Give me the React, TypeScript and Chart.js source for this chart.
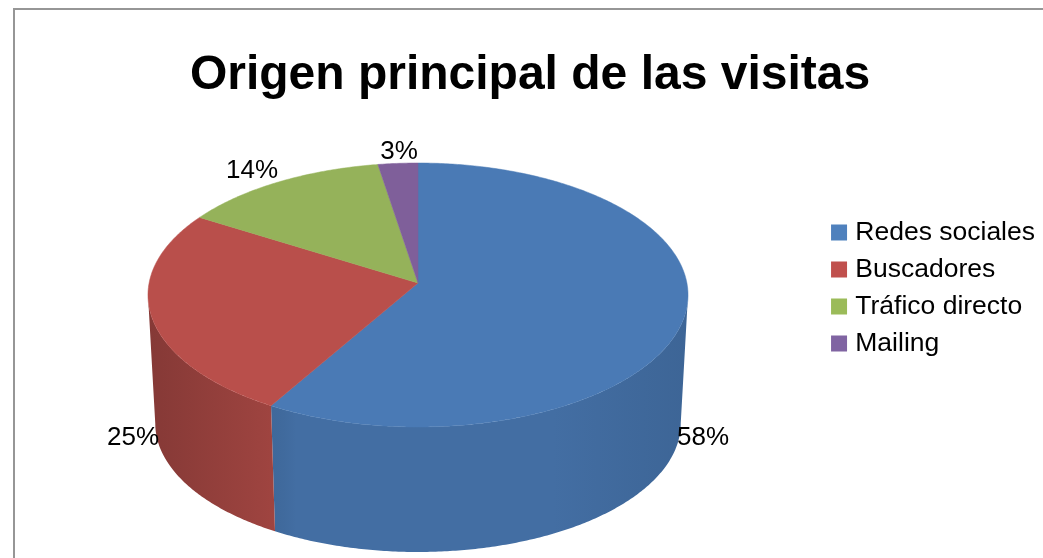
import React, { useEffect, useRef } from "react";
import { Chart, registerables } from "chart.js";

Chart.register(...registerables);

const titleText = "Origen principal de las visitas";
const categories = ["Redes sociales", "Buscadores", "Tráfico directo", "Mailing"];
const shares = [58.4, 25.4, 13.6, 2.6];
const topColors = ["#4a7ab5", "#b94f4b", "#95b25a", "#7f5f9a"];
const legendColors = ["#4f81bd", "#c0504d", "#9bbb59", "#8064a2"];

const FONT = '"Liberation Sans", Arial, sans-serif';
const apexX = 418;
const apexY = 283;
const projA = 268.9;
const projB = 130.9;
const projK = -0.0909;
const depth = 128.9;
const shrink = 0.973;
const labelSpots = [
  { x: 703, y: 438 },
  { x: 133, y: 438 },
  { x: 252, y: 171 },
  { x: 399, y: 152 },
];
const shadeStops = [
  { nx: -1, f: 0.72 },
  { nx: -0.5, f: 0.87 },
  { nx: -0.45, f: 0.9 },
  { nx: 0.5, f: 0.9 },
  { nx: 1, f: 0.83 },
];

const project = (a: number) => {
  const u = Math.cos(a);
  const v = Math.sin(a);
  const d = 1 + projK * v;
  return { x: (projA * u) / d, y: (projB * v) / d };
};
const topPt = (a: number) => {
  const p = project(a);
  return { x: apexX + p.x, y: apexY + p.y };
};
const bottomPt = (a: number) => {
  const p = project(a);
  return { x: apexX + p.x * shrink, y: apexY + depth + p.y * shrink };
};
const shadeColor = (hex: string, f: number) => {
  const n = parseInt(hex.slice(1), 16);
  const c = [(n >> 16) & 255, (n >> 8) & 255, n & 255].map((v) => Math.round(v * f));
  return `rgb(${c[0]},${c[1]},${c[2]})`;
};

const pie3d = {
  id: "pie3d",
  beforeDatasetDraw(chart: any) {
    const ctx = chart.ctx;
    const arcs = chart.getDatasetMeta(0).data;
    // the wall's silhouette sits where the projected rim is widest
    const minA = Math.asin(-projK);
    const maxA = Math.PI - minA;
    ctx.save();
    // side wall: one shaded band per slice
    arcs.forEach((arc: any, i: number) => {
      const s = Math.max(arc.startAngle, minA);
      const e = Math.min(arc.endAngle, maxA);
      if (e <= s) return;
      const grad = ctx.createLinearGradient(apexX - 270, 0, apexX + 270, 0);
      shadeStops.forEach((st) => grad.addColorStop((st.nx + 1) / 2, shadeColor(topColors[i], st.f)));
      const n = Math.ceil((e - s) / 0.01);
      ctx.beginPath();
      for (let k = 0; k <= n; k++) {
        const p = topPt(s + ((e - s) * k) / n);
        if (k === 0) ctx.moveTo(p.x, p.y);
        else ctx.lineTo(p.x, p.y);
      }
      for (let k = n; k >= 0; k--) {
        const p = bottomPt(s + ((e - s) * k) / n);
        ctx.lineTo(p.x, p.y);
      }
      ctx.closePath();
      ctx.fillStyle = grad;
      ctx.fill();
    });
    // top face
    arcs.forEach((arc: any, i: number) => {
      ctx.beginPath();
      ctx.moveTo(apexX, apexY);
      const n = Math.ceil((arc.endAngle - arc.startAngle) / 0.01);
      for (let k = 0; k <= n; k++) {
        const p = topPt(arc.startAngle + ((arc.endAngle - arc.startAngle) * k) / n);
        ctx.lineTo(p.x, p.y);
      }
      ctx.closePath();
      ctx.fillStyle = topColors[i];
      ctx.strokeStyle = topColors[i];
      ctx.lineWidth = 0.5;
      ctx.fill();
      ctx.stroke();
    });
    // data labels
    ctx.fillStyle = "#000";
    ctx.font = `26px ${FONT}`;
    ctx.textAlign = "center";
    ctx.textBaseline = "middle";
    shares.forEach((v, i) => ctx.fillText(`${Math.round(v)}%`, labelSpots[i].x, labelSpots[i].y));
    ctx.restore();
    return false;
  },
};

export default function App() {
  const ref = useRef<HTMLCanvasElement>(null);
  useEffect(() => {
    const chart = new Chart(ref.current as HTMLCanvasElement, {
      type: "pie",
      data: {
        labels: categories,
        datasets: [{ data: shares, backgroundColor: topColors, borderWidth: 0 }],
      },
      plugins: [pie3d],
      options: {
        animation: false,
        responsive: false,
        layout: { padding: { left: 15, right: -2, top: 18, bottom: 0 } },
        plugins: {
          tooltip: { enabled: false },
          title: {
            display: true,
            text: titleText,
            color: "#000",
            font: { family: FONT, size: 48, weight: "bold" },
            padding: { top: 29, bottom: 42 },
          },
          legend: {
            position: "right",
            labels: {
              color: "#000",
              font: { family: FONT, size: 26.5 },
              boxWidth: 6,
              boxHeight: 6,
              padding: 10.5,
              generateLabels: () =>
                categories.map((text, i) => ({
                  text,
                  fillStyle: legendColors[i],
                  strokeStyle: legendColors[i],
                  lineWidth: 10,
                  index: i,
                })),
            },
          },
        },
      } as any,
    });
    return () => chart.destroy();
  }, []);
  return (
    <div style={{ position: "fixed", left: 0, top: 0, width: 1043, height: 558, background: "#fff" }}>
      <div
        style={{
          position: "absolute",
          left: 13,
          top: 8,
          right: -10,
          bottom: -10,
          borderLeft: "2px solid #969696",
          borderTop: "2px solid #969696",
        }}
      />
      <canvas ref={ref} width={1043} height={558} style={{ position: "absolute", left: 0, top: 0 }} />
    </div>
  );
}
